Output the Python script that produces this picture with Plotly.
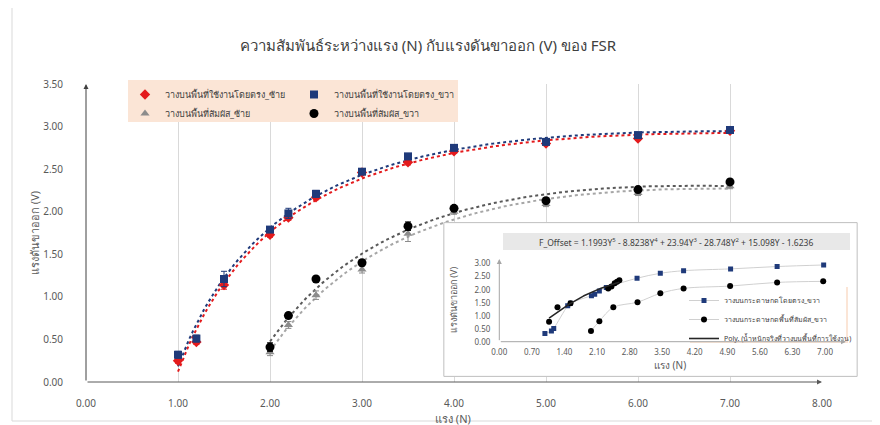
import numpy as np
import plotly.graph_objects as go

# ---------------- data ----------------
force_direct = [1.0, 1.2, 1.5, 2.0, 2.2, 2.5, 3.0, 3.5, 4.0, 5.0, 6.0, 7.0]
v_direct_left = [0.25, 0.47, 1.14, 1.73, 1.93, 2.17, 2.46, 2.58, 2.71, 2.80, 2.86, 2.95]
v_direct_right = [0.32, 0.51, 1.21, 1.79, 1.98, 2.21, 2.47, 2.65, 2.75, 2.82, 2.90, 2.96]
err_direct_left = [0.03, 0.03, 0.05, 0.03, 0.03, 0.03, 0.02, 0.03, 0.02, 0.02, 0.02, 0.02]
err_direct_right = [0.04, 0.04, 0.09, 0.03, 0.06, 0.04, 0.02, 0.03, 0.02, 0.02, 0.02, 0.02]

force_contact = [2.0, 2.2, 2.5, 3.0, 3.5, 4.0, 5.0, 6.0, 7.0]
v_contact_left = [0.35, 0.67, 1.02, 1.32, 1.74, 2.00, 2.09, 2.22, 2.30]
v_contact_right = [0.41, 0.78, 1.21, 1.40, 1.83, 2.04, 2.13, 2.26, 2.35]
err_contact_left = [0.04, 0.04, 0.05, 0.04, 0.09, 0.03, 0.03, 0.03, 0.03]
err_contact_right = [0.05, 0.03, 0.03, 0.03, 0.05, 0.03, 0.03, 0.03, 0.03]

# inset
inset_direct_x = [0.98, 1.12, 1.17, 1.47, 1.53, 1.98, 2.05, 2.15, 2.30, 2.96, 3.46, 3.96, 4.97, 5.97, 6.97]
inset_direct_y = [0.32, 0.41, 0.51, 1.38, 1.48, 1.77, 1.82, 1.95, 2.08, 2.44, 2.63, 2.73, 2.80, 2.89, 2.95]
inset_contact_x = [1.97, 2.15, 2.45, 2.97, 3.46, 3.96, 4.96, 5.97, 6.96]
inset_contact_y = [0.41, 0.79, 1.32, 1.52, 1.86, 2.05, 2.14, 2.28, 2.32]
inset_actual_x = [1.07, 1.25, 1.53, 2.34, 2.41, 2.48, 2.53, 2.58]
inset_actual_y = [0.77, 1.32, 1.48, 2.05, 2.12, 2.25, 2.31, 2.36]

main_x_ticks = [0, 1, 2, 3, 4, 5, 6, 7, 8]
main_y_ticks = [0, 0.5, 1.0, 1.5, 2.0, 2.5, 3.0, 3.5]
inset_x_ticks = [0, 0.7, 1.4, 2.1, 2.8, 3.5, 4.2, 4.9, 5.6, 6.3, 7.0]
inset_y_ticks = [0, 0.5, 1.0, 1.5, 2.0, 2.5, 3.0]

title_text = "ความสัมพันธ์ระหว่างแรง (N) กับแรงดันขาออก (V) ของ FSR"
x_title = "แรง (N)"
y_title = "แรงดันขาออก (V)"
names = ["วางบนพื้นที่ใช้งานโดยตรง_ซ้าย", "วางบนพื้นที่ใช้งานโดยตรง_ขวา",
         "วางบนพื้นที่สัมผัส_ซ้าย", "วางบนพื้นที่สัมผัส_ขวา"]
inset_names = ["วางบนกระดาษกดโดยตรง_ขวา", "วางบนกระดาษกดพื้นที่สัมผัส_ขวา",
               "Poly. (น้ำหนักจริงที่วางบนพื้นที่การใช้งาน)"]
formula = "F_Offset = 1.1993Y<sup>5</sup> - 8.8238Y<sup>4</sup> + 23.94Y<sup>3</sup> - 28.748Y<sup>2</sup> + 15.098Y - 1.6236"

FONT = "Noto Sans, DejaVu Sans, sans-serif"
RED = "#e41a1c"
NAVY = "#1f3a7a"
GRAY = "#8c8c8c"
BLACK = "#000000"


def fit_line(xs, ys, deg):
    c = np.polyfit(xs, ys, deg)
    xx = np.linspace(min(xs), max(xs), 120)
    return xx, np.polyval(c, xx)


def fit_log(xs, ys, deg=2):
    lx = np.log(np.asarray(xs, dtype=float))
    c = np.polyfit(lx, ys, deg)
    xx = np.linspace(min(xs), max(xs), 150)
    return xx, np.polyval(c, np.log(xx))


fig = go.Figure()

# empty traces so the helper subplots (inset frame, legend box) exist
fig.add_trace(go.Scatter(x=[], y=[], xaxis="x2", yaxis="y2", showlegend=False, hoverinfo="skip"))
fig.add_trace(go.Scatter(x=[], y=[], xaxis="x4", yaxis="y4", showlegend=False, hoverinfo="skip"))

# main dotted trend curves fitted to the data
for xs, ys, col in [(force_direct, v_direct_left, RED), (force_direct, v_direct_right, NAVY),
                    (force_contact, v_contact_left, "#a6a6a6"), (force_contact, v_contact_right, "#595959")]:
    tx, ty = fit_log(xs, ys, 2)
    fig.add_trace(go.Scatter(x=tx, y=ty, mode="lines",
                             line=dict(color=col, width=2, dash="dot"),
                             showlegend=False, hoverinfo="skip"))

# main markers
fig.add_trace(go.Scatter(x=force_direct, y=v_direct_left, mode="markers", name=names[0], legend="legend",
                         marker=dict(symbol="diamond", size=8, color=RED),
                         error_y=dict(type="data", array=err_direct_left, color=RED, thickness=1, width=3)))
fig.add_trace(go.Scatter(x=force_contact, y=v_contact_left, mode="markers", name=names[2], legend="legend",
                         marker=dict(symbol="triangle-up", size=8, color=GRAY),
                         error_y=dict(type="data", array=err_contact_left, color=GRAY, thickness=1, width=3)))
fig.add_trace(go.Scatter(x=force_direct, y=v_direct_right, mode="markers", name=names[1], legend="legend2",
                         marker=dict(symbol="square", size=8, color=NAVY),
                         error_y=dict(type="data", array=err_direct_right, color=NAVY, thickness=1, width=3)))
fig.add_trace(go.Scatter(x=force_contact, y=v_contact_right, mode="markers", name=names[3], legend="legend2",
                         marker=dict(symbol="circle", size=9, color=BLACK),
                         error_y=dict(type="data", array=err_contact_right, color=BLACK, thickness=1, width=3)))

# inset traces
fig.add_trace(go.Scatter(x=inset_direct_x, y=inset_direct_y, mode="lines+markers", name=inset_names[0],
                         legend="legend3", xaxis="x3", yaxis="y3",
                         line=dict(color="#d0d0d0", width=1, shape="spline"),
                         marker=dict(symbol="square", size=5, color=NAVY)))
fig.add_trace(go.Scatter(x=inset_contact_x, y=inset_contact_y, mode="lines+markers", name=inset_names[1],
                         legend="legend3", xaxis="x3", yaxis="y3",
                         line=dict(color="#d0d0d0", width=1, shape="spline"),
                         marker=dict(symbol="circle", size=6, color=BLACK)))
fig.add_trace(go.Scatter(x=inset_actual_x, y=inset_actual_y, mode="markers", showlegend=False,
                         xaxis="x3", yaxis="y3", marker=dict(symbol="circle", size=6, color=BLACK)))
px_, py_ = fit_line(inset_actual_x, inset_actual_y, 2)
fig.add_trace(go.Scatter(x=px_, y=py_, mode="lines", name=inset_names[2], legend="legend3",
                         xaxis="x3", yaxis="y3", line=dict(color="#262626", width=1.6)))

# ---------------- layout geometry ----------------
# the page body has an 8px margin, so target pixel positions are shifted by OFF
OFF = 8
L, R, T, B = 52, 23, 52, 33
W, H = 880, 425
PW, PH = W - L - R, H - T - B


def dx(p):
    return (p - OFF - L) / PW


def dy(p):
    return (H - B - (p - OFF)) / PH


tickfont = dict(family=FONT, size=10, color="#595959")
small = dict(family=FONT, size=8, color="#595959")

fig.update_layout(
    width=W, height=H, margin=dict(l=L, r=R, t=T, b=B, autoexpand=False),
    paper_bgcolor="white", plot_bgcolor="white",
    title=dict(text=title_text, x=(428 - OFF) / W, xanchor="center", y=1 - (46 - OFF) / H, yanchor="middle",
               font=dict(family=FONT, size=15, color="#404040")),
    xaxis=dict(domain=[dx(86), dx(822)], range=[0, 8], tickvals=main_x_ticks, tickformat=".2f",
               showgrid=True, gridcolor="#d9d9d9", gridwidth=1, zeroline=False, showline=False,
               ticks="", tickfont=tickfont, ticklabelstandoff=14, anchor="y", automargin=False),
    yaxis=dict(domain=[dy(382), dy(84)], range=[0, 3.5], tickvals=main_y_ticks, tickformat=".2f",
               showgrid=False, zeroline=False, showline=False, ticks="", tickfont=tickfont,
               ticklabelstandoff=22, anchor="x", automargin=False),
    xaxis2=dict(domain=[dx(443), dx(858)], range=[0, 1], visible=False, anchor="y2", fixedrange=True,
                automargin=False),
    yaxis2=dict(domain=[dy(377), dy(222)], range=[0, 1], visible=False, anchor="x2", fixedrange=True,
                automargin=False),
    xaxis3=dict(domain=[dx(499.3), dx(846)], range=[0, 7.45], tickvals=inset_x_ticks, tickformat=".2f",
                showgrid=False, zeroline=False, showline=False, ticks="", tickfont=small,
                ticklabelstandoff=4, anchor="y3", automargin=False),
    yaxis3=dict(domain=[dy(341.7), dy(259)], range=[0, 3.18], tickvals=inset_y_ticks, tickformat=".2f",
                showgrid=False, zeroline=False, showline=False, ticks="", tickfont=small,
                ticklabelstandoff=8, anchor="x3", automargin=False),
    xaxis4=dict(domain=[dx(128), dx(458)], range=[0, 1], visible=False, anchor="y4", fixedrange=True,
                automargin=False),
    yaxis4=dict(domain=[dy(122), dy(80)], range=[0, 1], visible=False, anchor="x4", fixedrange=True,
                automargin=False),
    legend=dict(x=dx(125), y=dy(80), xanchor="left", yanchor="top", bgcolor="rgba(0,0,0,0)",
                font=dict(family=FONT, size=9, color="#404040"), tracegroupgap=0),
    legend2=dict(x=dx(294), y=dy(80), xanchor="left", yanchor="top", bgcolor="rgba(0,0,0,0)",
                 font=dict(family=FONT, size=9, color="#404040"), tracegroupgap=0),
    legend3=dict(x=dx(684), y=dy(286), xanchor="left", yanchor="top", bgcolor="rgba(0,0,0,0)",
                 font=dict(family=FONT, size=7, color="#404040"), tracegroupgap=0),
    showlegend=True,
)

shapes = [
    # chart frame
    dict(type="rect", xref="paper", yref="paper", x0=dx(12), x1=dx(876), y0=dy(421), y1=dy(4),
         line=dict(color="#d9d9d9", width=1), fillcolor="rgba(0,0,0,0)", layer="below"),
    # inset frame (white, hides the main grid)
    dict(type="rect", xref="x2", yref="y2", x0=0.002, x1=0.998, y0=0.004, y1=0.996,
         line=dict(color="#bfbfbf", width=1), fillcolor="white", layer="below"),
    # formula box
    dict(type="rect", xref="x2", yref="y2", x0=(503 - 443) / 415, x1=(850 - 443) / 415,
         y0=(377 - 250) / 155, y1=(377 - 233) / 155, line=dict(width=0), fillcolor="#e8e8e8", layer="below"),
    # inset legend box
    dict(type="rect", xref="x2", yref="y2", x0=(690 - 443) / 415, x1=(848 - 443) / 415,
         y0=(377 - 343) / 155, y1=(377 - 287) / 155, line=dict(width=0), fillcolor="#fbe5d6", layer="below"),
    # main legend box
    dict(type="rect", xref="x4", yref="y4", x0=0, x1=1, y0=0, y1=1,
         line=dict(width=0), fillcolor="#fbe5d6", layer="below"),
]
fig.update_layout(shapes=shapes)

ann = []
# axis arrows
for xr, yr, x0, y0, x1, y1, col in [("x", "y", 0, 0, 8, 0, "#595959"), ("x", "y", 0, 0, 0, 3.5, "#404040"),
                                      ("x3", "y3", 0, 0, 7.45, 0, "#a6a6a6"), ("x3", "y3", 0, 0, 0, 3.18, "#a6a6a6")]:
    ann.append(dict(xref=xr, yref=yr, axref=xr, ayref=yr, x=x1, y=y1, ax=x0, ay=y0, text="",
                    showarrow=True, arrowhead=2, arrowsize=1, arrowwidth=1, arrowcolor=col, standoff=0))


def label(px, py, text, size, angle=0, color="#595959"):
    return dict(xref="paper", yref="paper", x=dx(px), y=dy(py), text=text, showarrow=False,
                xanchor="center", yanchor="middle", textangle=angle,
                font=dict(family=FONT, size=size, color=color))


ann += [
    label(453, 418, x_title, 11),
    label(34, 233, y_title, 11, -90),
    label(670, 365, x_title, 10),
    label(453, 300, y_title, 9, -90),
    label(676, 241.5, formula, 8.5, 0, "#404040"),
]
fig.update_layout(annotations=ann)

fig.write_html("out.html")
